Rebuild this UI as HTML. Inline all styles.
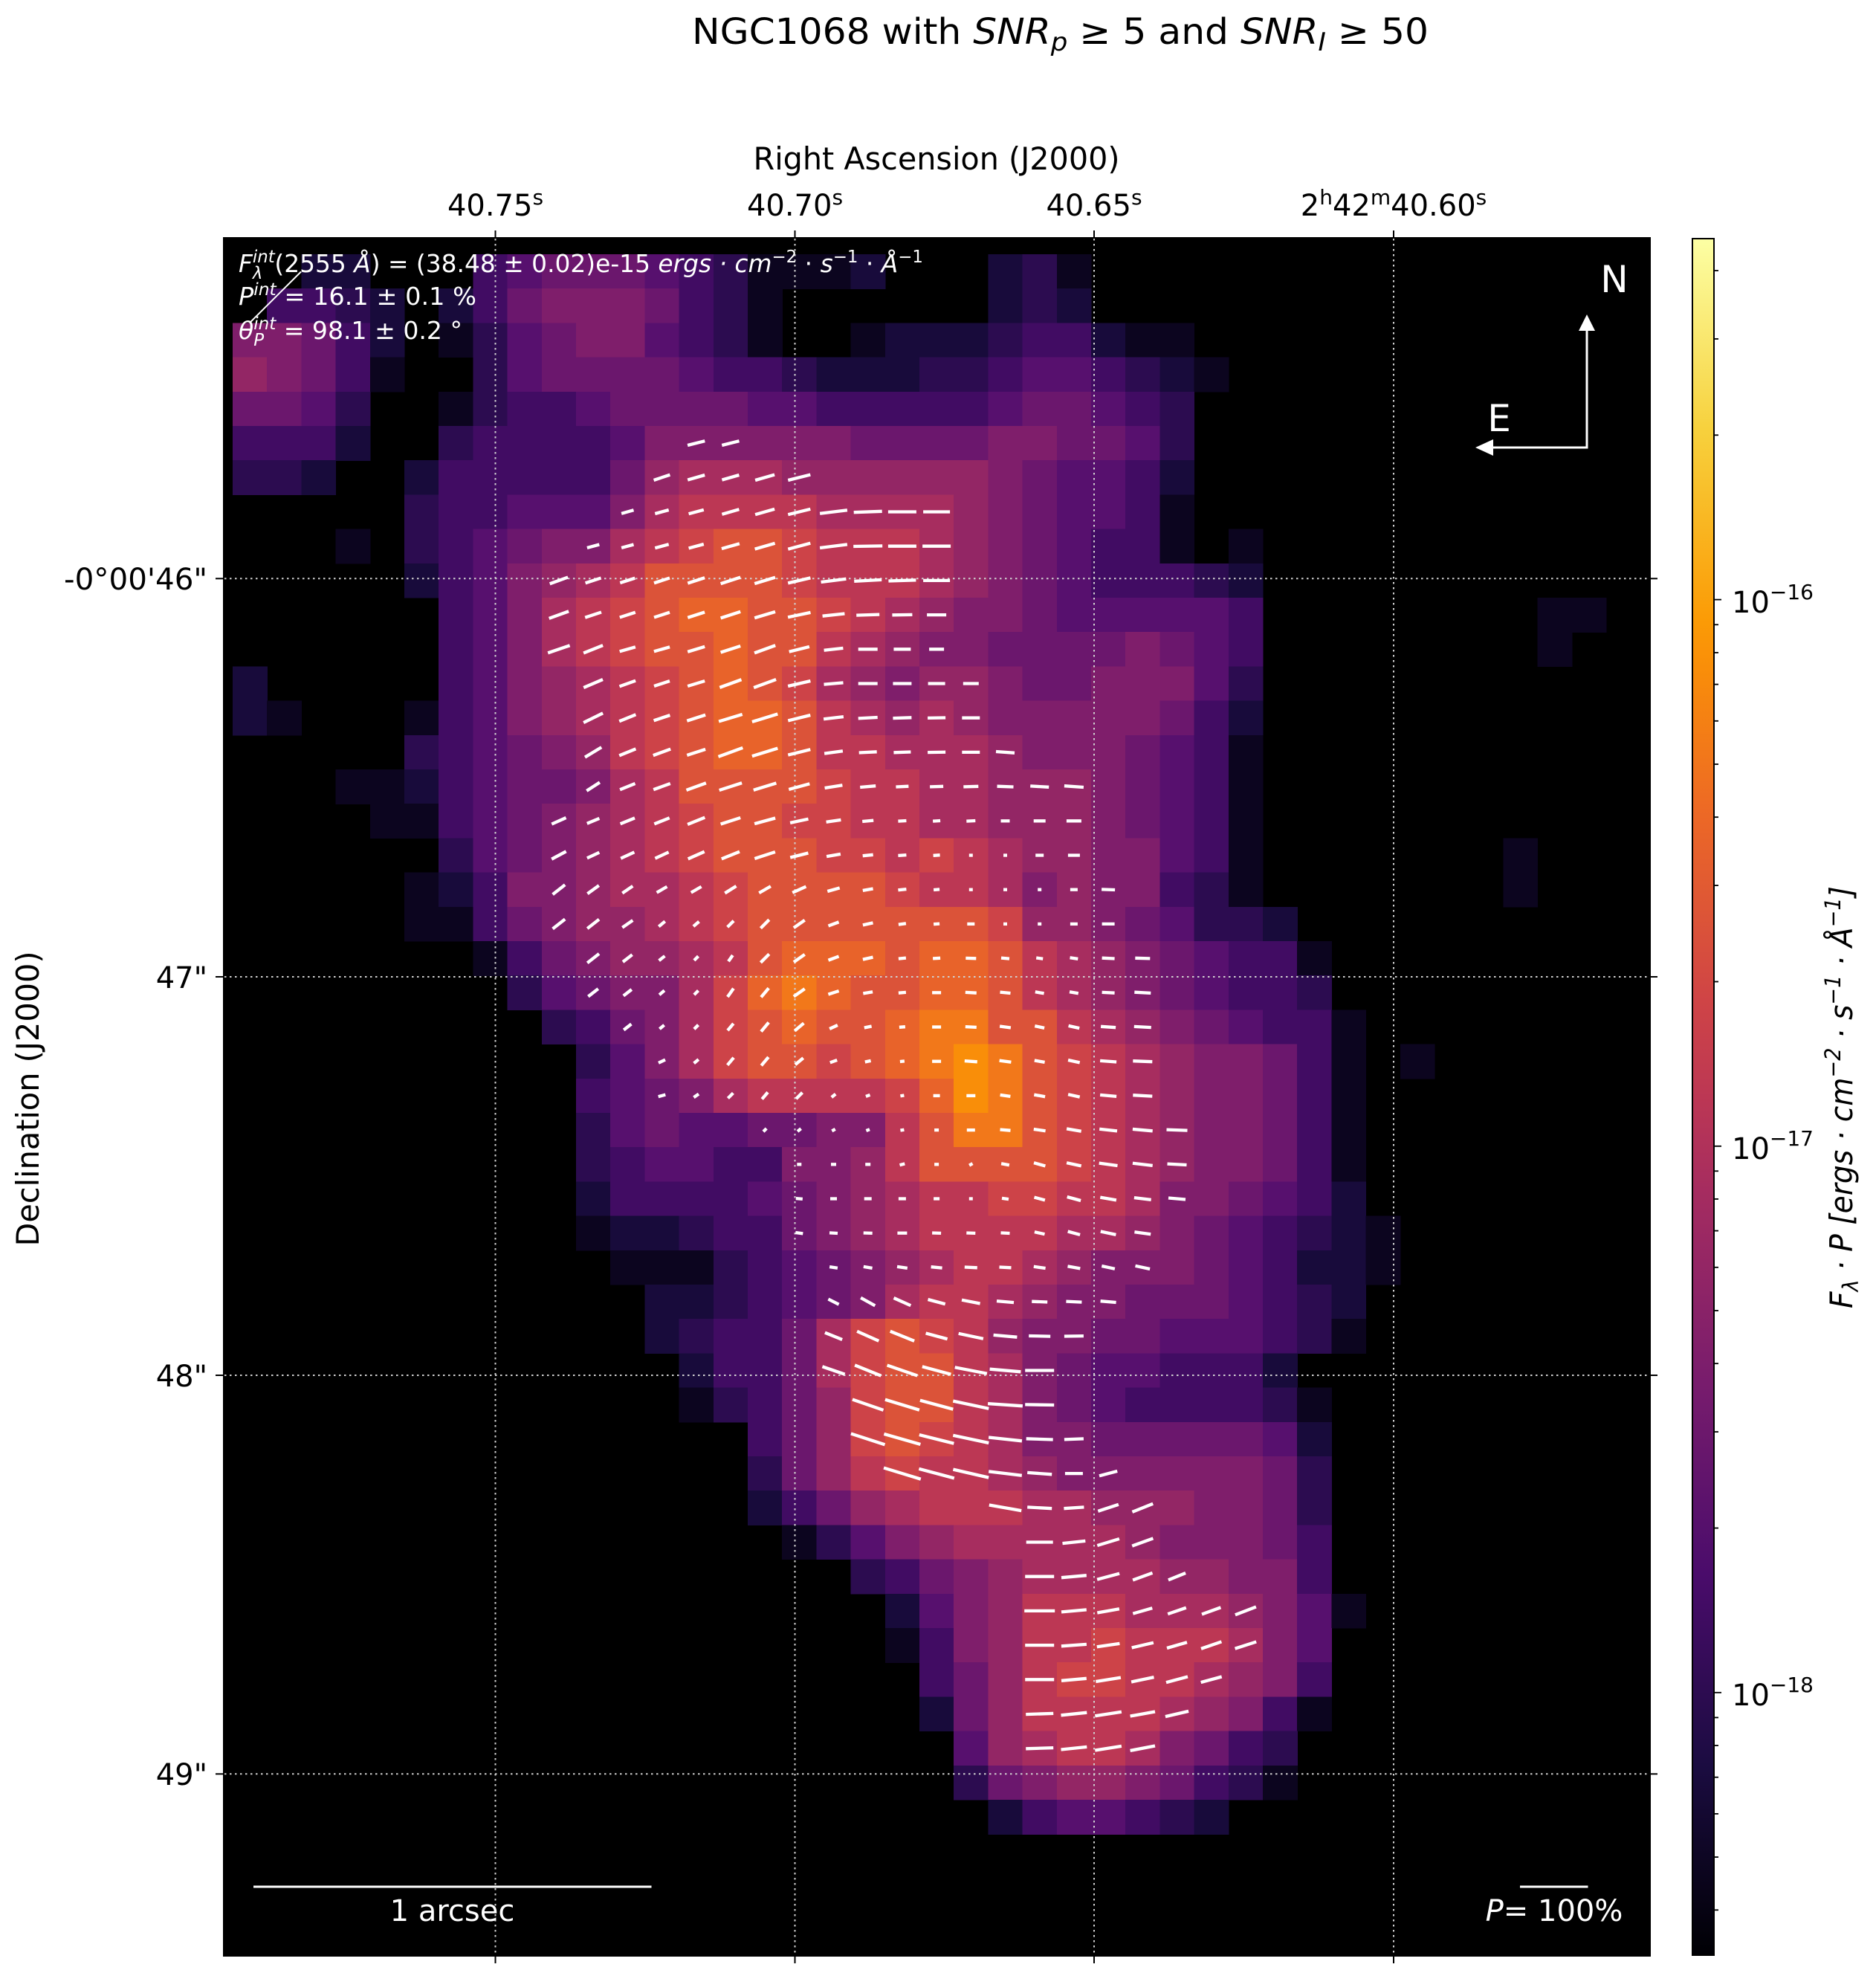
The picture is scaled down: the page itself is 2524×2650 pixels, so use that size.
<!DOCTYPE html>
<html><head><meta charset="utf-8">
<style>
html,body{margin:0;padding:0;background:#fff;}
svg{display:block;}
text{font-family:"DejaVu Sans","Liberation Sans",sans-serif;}
</style></head>
<body>
<svg id="s" xmlns="http://www.w3.org/2000/svg" width="2524" height="2650" viewBox="0 0 2524 2650">
<defs>
<linearGradient id="cb" x1="0" y1="1" x2="0" y2="0">
<stop offset="0" stop-color="#000004"/>
<stop offset="0.111" stop-color="#1b0c41"/>
<stop offset="0.222" stop-color="#4a0c6b"/>
<stop offset="0.333" stop-color="#781c6d"/>
<stop offset="0.444" stop-color="#a52c60"/>
<stop offset="0.5" stop-color="#bc3754"/>
<stop offset="0.556" stop-color="#cf4446"/>
<stop offset="0.667" stop-color="#ed6925"/>
<stop offset="0.75" stop-color="#f98e09"/>
<stop offset="0.778" stop-color="#fb9b06"/>
<stop offset="0.889" stop-color="#f7d13d"/>
<stop offset="1" stop-color="#fcffa4"/>
</linearGradient>
</defs>
<rect width="2524" height="2650" fill="#fff"/>
<rect x="302" y="321" width="1917" height="2309" fill="#000"/>
<g id="cells" shape-rendering="crispEdges"></g>
<g stroke="#d0d0d0" stroke-width="2" stroke-dasharray="2.5 4.5" fill="none">
<line x1="666.5" y1="321" x2="666.5" y2="2630"/>
<line x1="1069.5" y1="321" x2="1069.5" y2="2630"/>
<line x1="1472" y1="321" x2="1472" y2="2630"/>
<line x1="1875" y1="321" x2="1875" y2="2630"/>
<line x1="302" y1="778.3" x2="2219" y2="778.3"/>
<line x1="302" y1="1314" x2="2219" y2="1314"/>
<line x1="302" y1="1850" x2="2219" y2="1850"/>
<line x1="302" y1="2386.3" x2="2219" y2="2386.3"/>
</g>
<g id="vecs" stroke="#fff" stroke-width="4.3" stroke-linecap="butt"></g>

<rect x="301" y="320" width="1919" height="2311" fill="none" stroke="#000" stroke-width="2"/>
<g stroke="#000" stroke-width="2">
<line x1="666.5" y1="310" x2="666.5" y2="320"/>
<line x1="1069.5" y1="310" x2="1069.5" y2="320"/>
<line x1="1472" y1="310" x2="1472" y2="320"/>
<line x1="1875" y1="310" x2="1875" y2="320"/>
<line x1="666.5" y1="2631" x2="666.5" y2="2641"/>
<line x1="1069.5" y1="2631" x2="1069.5" y2="2641"/>
<line x1="1472" y1="2631" x2="1472" y2="2641"/>
<line x1="1875" y1="2631" x2="1875" y2="2641"/>
<line x1="290" y1="778.3" x2="300" y2="778.3"/>
<line x1="290" y1="1314" x2="300" y2="1314"/>
<line x1="290" y1="1850" x2="300" y2="1850"/>
<line x1="290" y1="2386.3" x2="300" y2="2386.3"/>
<line x1="2220" y1="778.3" x2="2230" y2="778.3"/>
<line x1="2220" y1="1314" x2="2230" y2="1314"/>
<line x1="2220" y1="1850" x2="2230" y2="1850"/>
<line x1="2220" y1="2386.3" x2="2230" y2="2386.3"/>
</g>

<text x="931" y="59" font-size="48" textLength="991" lengthAdjust="spacingAndGlyphs">NGC1068 with <tspan font-style="italic">SNR</tspan><tspan font-style="italic" font-size="34" dy="9">p</tspan><tspan dy="-9"> ≥ 5 and </tspan><tspan font-style="italic">SNR</tspan><tspan font-style="italic" font-size="34" dy="9">I</tspan><tspan dy="-9"> ≥ 50</tspan></text>

<text x="1260" y="228" font-size="42" text-anchor="middle" textLength="493" lengthAdjust="spacingAndGlyphs">Right Ascension (J2000)</text>
<g font-size="40" text-anchor="middle">
<text x="666.5" y="290">40.75<tspan font-size="28" dy="-15">s</tspan></text>
<text x="1069.5" y="290">40.70<tspan font-size="28" dy="-15">s</tspan></text>
<text x="1472" y="290">40.65<tspan font-size="28" dy="-15">s</tspan></text>
<text x="1875" y="290">2<tspan font-size="28" dy="-15">h</tspan><tspan dy="15">42</tspan><tspan font-size="28" dy="-15">m</tspan><tspan dy="15">40.60</tspan><tspan font-size="28" dy="-15">s</tspan></text>
</g>

<text transform="translate(52,1478) rotate(-90)" font-size="42" text-anchor="middle" textLength="397" lengthAdjust="spacingAndGlyphs">Declination (J2000)</text>
<g font-size="40" text-anchor="end">
<text x="279" y="793" textLength="193" lengthAdjust="spacingAndGlyphs">-0°00'46"</text>
<text x="279" y="1329">47"</text>
<text x="279" y="1865">48"</text>
<text x="279" y="2401">49"</text>
</g>

<g fill="#fff">
<text x="321" y="366" font-size="33" textLength="921" lengthAdjust="spacingAndGlyphs"><tspan font-style="italic">F</tspan><tspan font-size="23" font-style="italic" dy="-13">int</tspan><tspan font-size="23" font-style="italic" dx="-30" dy="22">λ</tspan><tspan dx="16" dy="-9">(2555 </tspan><tspan font-style="italic">Å</tspan><tspan>) = (38.48 ± 0.02)e-15 </tspan><tspan font-style="italic">ergs · cm</tspan><tspan font-size="23" dy="-13">−2</tspan><tspan dy="13"> · </tspan><tspan font-style="italic">s</tspan><tspan font-size="23" dy="-13">−1</tspan><tspan dy="13"> · </tspan><tspan font-style="italic">Å</tspan><tspan font-size="23" dy="-13">−1</tspan></text>
<text x="321" y="410" font-size="33" textLength="320" lengthAdjust="spacingAndGlyphs"><tspan font-style="italic">P</tspan><tspan font-size="23" font-style="italic" dy="-13">int</tspan><tspan dy="13"> = 16.1 ± 0.1 %</tspan></text>
<text x="321" y="456" font-size="33" textLength="301" lengthAdjust="spacingAndGlyphs"><tspan font-style="italic">θ</tspan><tspan font-size="23" font-style="italic" dy="-13">int</tspan><tspan font-size="23" font-style="italic" dx="-30" dy="22">P</tspan><tspan dx="16" dy="-9"> = 98.1 ± 0.2 °</tspan></text>
</g>
<line x1="336.5" y1="433.7" x2="405" y2="365.5" stroke="#fff" stroke-width="2"/>

<g stroke="#fff" stroke-width="3" fill="none">
<line x1="2135" y1="603" x2="2135" y2="443"/>
<line x1="2136.5" y1="602" x2="2007" y2="602"/>
</g>
<polygon points="2124,445 2146,445 2135,423" fill="#fff"/>
<polygon points="2009,591 2009,613 1985,602" fill="#fff"/>
<text x="2172" y="393" font-size="50" text-anchor="middle" fill="#fff">N</text>
<text x="2017" y="580" font-size="50" text-anchor="middle" fill="#fff">E</text>

<line x1="341" y1="2538" x2="876.5" y2="2538" stroke="#fff" stroke-width="3"/>
<text x="608.5" y="2584" font-size="40" text-anchor="middle" fill="#fff">1 arcsec</text>
<line x1="2045" y1="2538" x2="2136.5" y2="2538" stroke="#fff" stroke-width="3"/>
<text x="2091" y="2584" font-size="40" text-anchor="middle" fill="#fff"><tspan font-style="italic">P</tspan>= 100%</text>

<rect x="2277" y="321" width="29" height="2309" fill="url(#cb)" stroke="#000" stroke-width="2"/>
<g id="cbt" stroke="#000" stroke-width="1.8"></g>
<g font-size="40">
<text x="2330" y="824">10<tspan font-size="28" dy="-18">−16</tspan></text>
<text x="2330" y="1559">10<tspan font-size="28" dy="-18">−17</tspan></text>
<text x="2330" y="2294">10<tspan font-size="28" dy="-18">−18</tspan></text>
</g>
<text transform="translate(2492,1476) rotate(-90)" font-size="42" font-style="italic" text-anchor="middle" textLength="568" lengthAdjust="spacingAndGlyphs">F<tspan font-size="29" dy="8">λ</tspan><tspan dy="-8"> · P [ergs · cm</tspan><tspan font-size="29" dy="-16">−2</tspan><tspan dy="16"> · s</tspan><tspan font-size="29" dy="-16">−1</tspan><tspan dy="16"> · Å</tspan><tspan font-size="29" dy="-16">−1</tspan><tspan dy="16">]</tspan></text>
</svg>
<script>
(function(){
var NS="http://www.w3.org/2000/svg";
function el(n,a,p){var e=document.createElementNS(NS,n);for(var k in a)e.setAttribute(k,a[k]);p.appendChild(e);return e;}
var ST=[[0,0,0,4],[0.111,27,12,65],[0.222,74,12,107],[0.25,87,16,110],[0.333,120,28,109],[0.444,165,44,96],[0.5,188,55,84],[0.556,207,68,70],[0.667,237,105,37],[0.75,249,142,9],[0.778,251,155,6],[0.889,247,209,61],[1,252,255,164]];
function cm(t){for(var i=1;i<ST.length;i++){if(t<=ST[i][0]){var a=ST[i-1],b=ST[i],f=(t-a[0])/(b[0]-a[0]);return "rgb("+Math.round(a[1]+f*(b[1]-a[1]))+","+Math.round(a[2]+f*(b[2]-a[2]))+","+Math.round(a[3]+f*(b[3]-a[3]))+")";}}return "rgb(252,255,164)";}
function Z(n){return new Array(n+1).join("0");}
var R=[
"0022000456665431112000231",
"0443202467776431000000232",
"77642013567754310012"+"2"+"2344211",
"87641003566665443222"+"3"+"34554321",
"66530013445666655444"+"4"+"4566543",
"44420034444577777766"+"6"+"6776653",
"33200244444689998888"+"8"+"8765542",
"0000034455579aaaa999"+"9"+"8765541",
"000103456779abccbaaa"+"9"+"876544101",
"00000245789accccbaaa"+"9"+"876544432",
"00000"+"04579"+"abcdd"+"ccba9"+"8"+"776555554"+Z(8)+"11",
"00000"+"04579"+"abccd"+"cca98"+"7"+"766667654"+Z(8)+"1",
"20000045789abcdcb987"+"8"+"876677753",
"21000145789abcddca98"+"9"+"877777642",
"00000345678abcddcaa9"+"9"+"987776541",
"00011"+"24566"+"79acc"+"ccbaa"+"9"+"988876541",
"00001"+"14567"+"89abc"+"cbbaa"+"9"+"988876541",
"00000"+"03567"+"89abc"+"ccbba"+"b"+"a98877541"+Z(7)+"1",
"00000"+"12477"+"899ab"+"ccccb"+"a"+"a97877431"+Z(7)+"1",
"0000011467889abccccc"+"c"+"cb88765332",
"00000001467889acdddc"+"d"+"dca98765441",
"00000000356779bdedcc"+"d"+"dca98765443",
"00000000034679bcdccd"+"e"+"ecca98765441",
"0000000000"+"3579bccbcd"+"e"+"fecba987764101",
Z(10)+"45679aaaab"+"d"+"fecba9877641",
Z(10)+"356556677a"+"c"+"eecba9877641",
Z(10)+"345544778a"+"c"+"cccba9877641",
Z(10)+"2444456789"+"a"+"abbaa9776542",
Z(10)+"1223446789"+"a"+"aaa9987654321",
Z(10)+"0111345678"+"9"+"aa98777654221",
Z(10)+"0022345679"+"a"+"a98776665432",
Z(12)+"234469bc"+"b"+"a87766555431",
Z(13)+"24469bc"+"c"+"a976554442",
Z(13)+"13468bc"+"c"+"a9765444431",
Z(15)+"468bc"+"b"+"a9776666652",
Z(15)+"368ab"+"a"+"a9877777763",
Z(15)+"24689"+"a"+"aa998887763",
Z(16)+"1357"+"8"+"99999877764",
Z(18)+"34"+"6"+"78999988774",
Z(19)+"2"+"5"+"78aaa9998751",
Z(19)+"1"+"4"+"78aabaaa975",
Z(20)+"4"+"68abbaa9874",
Z(20)+"2"+"68aaaa98741",
Z(21)+"589aa97643",
Z(21)+"3678876431",
Z(22)+"2455432"
];
var X0=313,Y0=342,D=46.2;
var g=document.getElementById("cells");
for(var r=0;r<R.length;r++){var s=R[r];for(var c=0;c<s.length;c++){var ch=s.charAt(c);if(ch==="0")continue;var v=parseInt(ch,16)*0.05;el("rect",{x:(X0+c*D).toFixed(1),y:(Y0+r*D).toFixed(1),width:(D+0.6).toFixed(1),height:(D+0.6).toFixed(1),fill:cm(v)},g);}}
var V=[
[5,13,"24:14,24:14"],
[6,12,"23:18,24:16,24:16,27:16,31:14"],
[7,11,"17:16,19:15,21:15,24:16,27:16,31:14,37:7,38:2,38:0,36:0"],
[8,10,"17:15,17:15,19:15,21:15,25:16,28:16,31:15,37:7,39:1,38:0,38:0"],
[9,9,"26:20,22:18,21:18,22:18,24:18,28:18,29:17,31:13,34:7,37:3,37:2,36:0"],
[10,9,"28:20,23:18,22:18,22:18,24:18,28:18,29:17,31:12,30:6,31:2,27:1,26:0"],
[11,9,"31:19,28:22,22:16,22:16,24:17,28:18,30:20,28:14,26:6,26:0,23:0,20:0"],
[12,10,"28:23,23:20,22:18,24:17,31:20,32:20,31:13,26:5,26:0,25:0,23:0,21:0"],
[13,10,"29:26,24:22,23:18,26:18,33:17,36:17,31:14,27:7,26:3,25:2,24:1,24:0"],
[14,10,"26:31,24:22,25:20,26:18,35:20,36:17,31:14,25:8,24:3,23:2,24:1,24:0,25:-4"],
[15,10,"21:33,22:22,24:20,28:20,32:18,32:17,29:15,24:9,21:5,17:3,18:2,20:2,22:-2,25:-3,26:-4"],
[16,9,"21:24,18:22,21:22,22:22,25:22,28:18,29:15,25:12,20:8,15:5,11:3,10:3,12:3,12:0,16:0,20:0"],
[17,9,"22:28,18:25,20:25,20:25,24:24,26:22,29:18,25:14,19:10,14:6,11:4,9:4,5:0,5:0,11:0,16:0"],
[18,9,"21:38,19:36,17:34,16:30,16:30,18:32,18:30,20:24,17:16,14:10,11:6,8:4,5:0,5:0,5:0,10:0,18:-2"],
[19,9,"21:38,20:38,17:35,11:40,10:40,12:45,16:45,18:35,15:20,14:12,10:8,8:5,10:0,5:0,5:0,10:0,17:0"],
[20,10,"20:38,16:38,10:38,8:45,10:55,16:45,18:35,15:20,14:12,10:6,10:3,14:-2,11:-5,9:-8,11:-8,17:-3,20:-2"],
[21,10,"17:38,14:38,9:40,8:45,14:55,16:50,18:35,15:18,13:10,10:5,12:0,15:-3,14:-6,12:-10,12:-10,17:-3,22:-3"],
[22,11,"13:38,8:40,8:45,12:50,16:50,16:40,12:25,10:12,8:5,12:0,15:-3,15:-8,13:-12,15:-12,20:-4,23:-3"],
[23,12,"10:25,8:40,13:50,15:50,14:40,10:20,8:12,6:5,12:0,17:-4,16:-8,14:-10,16:-12,22:-4,26:-2"],
[24,12,"10:15,8:35,10:45,12:50,12:45,7:40,6:20,5:10,9:0,12:0,14:-8,15:-10,16:-12,22:-5,26:-3"],
[25,15,"6:45,6:40,5:30,5:20,5:10,6:0,11:0,14:-5,16:-8,20:-10,24:-6,27:-5,28:-2"],
[26,16,"6:0,7:0,7:0,7:15,6:0,5:30,11:-10,16:-15,20:-12,25:-8,27:-7,26:-3"],
[27,16,"9:-5,9:0,10:0,10:0,8:0,5:0,9:-8,15:-15,19:-15,22:-10,23:-7,23:-5"],
[28,16,"10:-8,11:-3,12:-2,13:0,12:-2,12:-2,12:-3,14:-12,17:-15,21:-12,22:-8"],
[29,17,"11:-8,12:-10,14:-8,15:-5,17:-3,16:-3,16:-8,17:-10,18:-12,20:-12"],
[30,17,"16:-27,22:-29,25:-24,24:-15,25:-11,23:-5,21:-2,21:-3,21:-5"],
[31,17,"25:-22,32:-24,35:-22,30:-15,34:-12,32:-5,29:-1,26:1"],
[32,17,"32:-19,38:-22,43:-19,40:-15,44:-11,42:-5,39:0"],
[33,18,"44:-19,48:-17,46:-15,49:-12,47:-4,39:-1"],
[34,18,"48:-18,51:-16,48:-14,49:-12,45:-6,36:-2,26:2"],
[35,19,"52:-17,49:-15,49:-13,45:-7,33:-4,24:0,25:15"],
[36,22,"44:-10,33:-3,27:4,29:18,30:22"],
[37,23,"36:0,31:6,31:17,30:20"],
[38,23,"39:0,34:5,31:15,28:20,25:22"],
[39,23,"41:0,34:5,30:10,27:16,26:19,27:20,30:21"],
[40,23,"39:0,34:4,31:8,30:13,28:16,29:19,30:18"],
[41,23,"39:0,34:5,34:9,31:12,30:15,29:15"],
[42,23,"37:2,35:6,36:9,34:10,32:13"],
[43,23,"37:2,35:6,36:9,34:11"]
];
var gv=document.getElementById("vecs");
V.forEach(function(v){var r=v[0],c0=v[1];v[2].split(",").forEach(function(p,i){var q=p.split(":"),L=Math.max(+q[0],5),A=(+q[1])*Math.PI/180;var cx=X0+(c0+i+0.5)*D,cy=Y0+(r+0.5)*D;var dx=L/2*Math.cos(A),dy=L/2*Math.sin(A);el("line",{x1:(cx-dx).toFixed(1),y1:(cy+dy).toFixed(1),x2:(cx+dx).toFixed(1),y2:(cy-dy).toFixed(1)},gv);});});
var gt=document.getElementById("cbt");
[806.6,1541.8,2276.8].forEach(function(y){el("line",{x1:2306,y1:y,x2:2316,y2:y},gt);});
[364,455.9,585.3,840.3,877.9,920.6,969.8,1028,1099.2,1191.1,1320.5,1575.3,1612.9,1655.6,1704.8,1763,1834.2,1926.1,2055.5,2310.4,2348,2390.7,2439.9,2498.1,2569.3].forEach(function(y){el("line",{x1:2306,y1:y,x2:2312,y2:y},gt);});
})();
</script>
</body></html>
